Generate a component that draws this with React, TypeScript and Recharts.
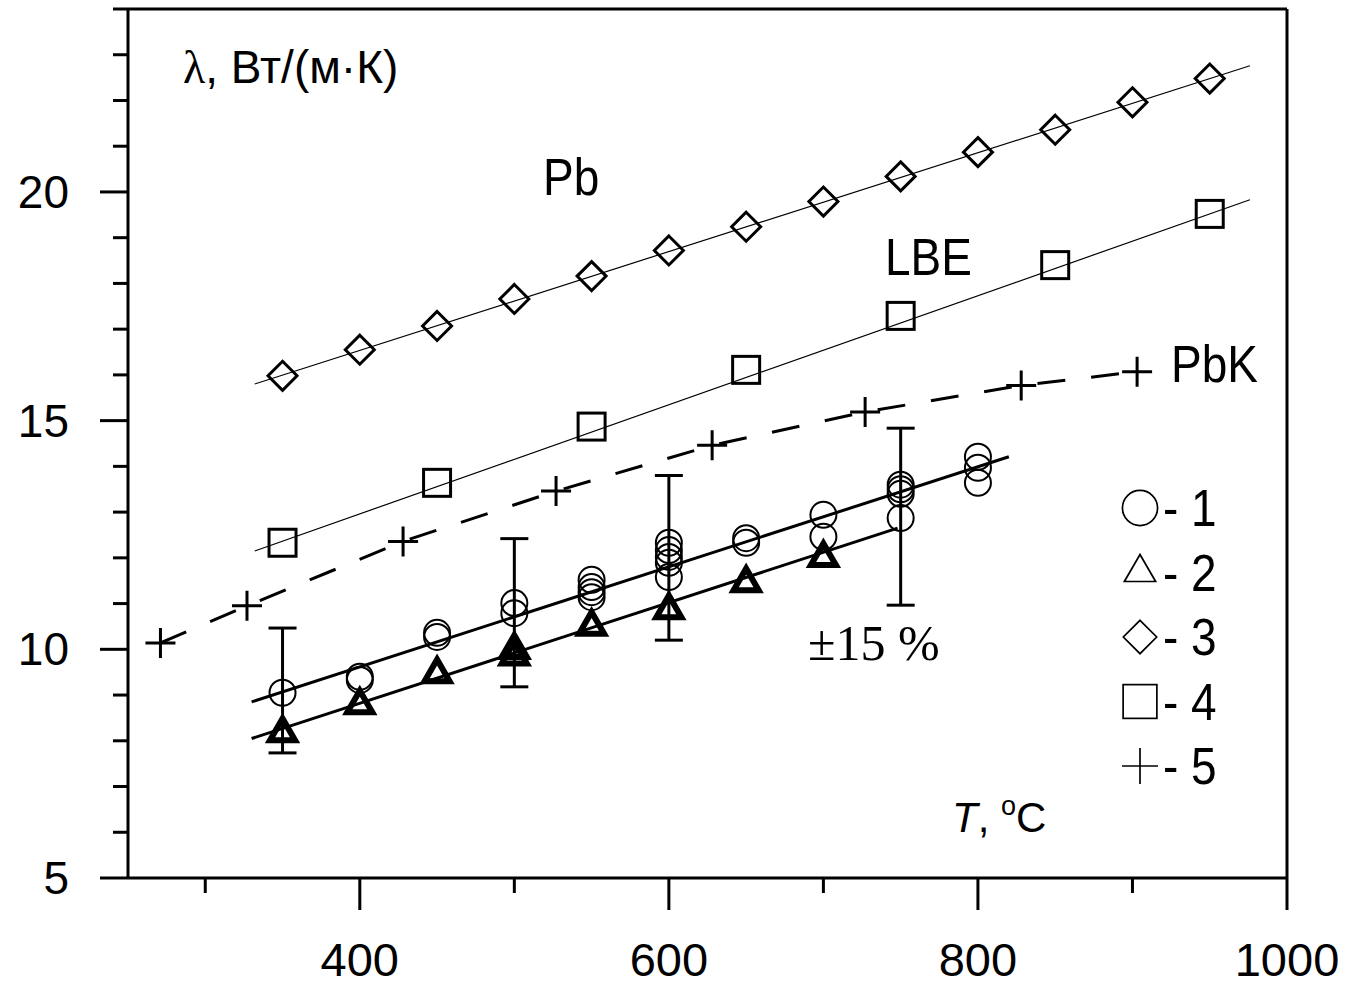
import { ErrorBar, ReferenceLine, Scatter, ScatterChart, XAxis, YAxis } from "recharts";

// axes
const xTicks = [300, 400, 500, 600, 700, 800, 900, 1000];
const xLabelled = [400, 600, 800, 1000];
const yTicks = [5, 6, 7, 8, 9, 10, 11, 12, 13, 14, 15, 16, 17, 18, 19, 20, 21, 22, 23, 24];
const yLabelled = [5, 10, 15, 20];

// 3 - Pb
const pbT = [350, 400, 450, 500, 550, 600, 650, 700, 750, 800, 850, 900, 950];
const pbLambda = [15.98, 16.55, 17.07, 17.66, 18.16, 18.72, 19.24, 19.79, 20.34, 20.87, 21.36, 21.96, 22.48];
const pbFitT = [332, 976];
const pbFitLambda = [15.8, 22.76];

// 4 - LBE
const lbeT = [350, 450, 550, 650, 750, 850, 950];
const lbeLambda = [12.33, 13.64, 14.87, 16.11, 17.29, 18.4, 19.52];
const lbeFitT = [332, 976];
const lbeFitLambda = [12.15, 19.83];

// 5 - PbK
const pbkT = [271, 327, 428, 527, 628, 727, 828, 903];
const pbkLambda = [10.14, 10.95, 12.36, 13.46, 14.46, 15.19, 15.77, 16.07];

// 1 - circles
const set1T = [350, 400, 400, 450, 450, 500, 500, 550, 550, 550, 550, 600, 600, 600, 600, 600, 650, 650, 700, 700, 750, 750, 750, 750, 800, 800, 800];
const set1Lambda = [9.05, 9.4, 9.33, 10.36, 10.27, 11.01, 10.79, 11.52, 11.36, 11.25, 11.14, 12.33, 12.17, 12.02, 11.89, 11.58, 12.43, 12.33, 12.94, 12.46, 13.6, 13.5, 13.4, 12.87, 14.21, 13.97, 13.64];
const fit1T = [330, 820];
const fit1Lambda = [8.85, 14.21];

// 2 - triangles
const set2T = [350, 400, 450, 500, 500, 550, 600, 650, 700];
const set2Lambda = [8.17, 8.78, 9.46, 9.99, 9.85, 10.5, 10.86, 11.45, 12.0];
const fit2T = [330, 748];
const fit2Lambda = [8.05, 12.65];

// ±15 % error bars
const errT = [350, 500, 600, 750];
const errLambda = [9.1, 10.8, 12.0, 12.9];
const errShare = 0.15;

const legendNames = ["- 1", "- 2", "- 3", "- 4", "- 5"];

const SANS = "'Liberation Sans', Arial, sans-serif";
const SERIF = "'Liberation Serif', 'Times New Roman', serif";
const PLOT_LEFT = 128;
const PLOT_BOTTOM = 878;

const pts = (ts: number[], vs: number[]) => ts.map((t, i) => ({ t, v: vs[i] }));

type Mark = (cx: number, cy: number, k?: number, sw?: number) => JSX.Element;

const circleMark: Mark = (cx, cy, k = 1, sw = 2) => (
  <circle cx={cx} cy={cy} r={13 * k} fill="none" stroke="#000" strokeWidth={sw} />
);
const triangleMark: Mark = (cx, cy, k = 1, sw = 6) => {
  const s = 25 * k;
  const h = (s * Math.sqrt(3)) / 2;
  return (
    <path
      d={`M${cx},${cy - (2 * h) / 3} L${cx + s / 2},${cy + h / 3} L${cx - s / 2},${cy + h / 3} Z`}
      fill="none"
      stroke="#000"
      strokeWidth={sw}
    />
  );
};
const diamondMark: Mark = (cx, cy, k = 1, sw = 3) => {
  const r = 14.5 * k;
  return (
    <path
      d={`M${cx},${cy - r} L${cx + r},${cy} L${cx},${cy + r} L${cx - r},${cy} Z`}
      fill="none"
      stroke="#000"
      strokeWidth={sw}
    />
  );
};
const squareMark: Mark = (cx, cy, k = 1, sw = 3) => {
  const a = 13.5 * k;
  return <rect x={cx - a} y={cy - a} width={2 * a} height={2 * a} fill="none" stroke="#000" strokeWidth={sw} />;
};
const plusMark: Mark = (cx, cy, k = 1, sw = 3) => {
  const a = 15 * k;
  return (
    <path d={`M${cx - a},${cy} H${cx + a} M${cx},${cy - a} V${cy + a}`} stroke="#000" strokeWidth={sw} fill="none" />
  );
};
const noMark = () => <g />;

const shapeOf = (m: Mark) => (p: any) => m(p.cx, p.cy);

function XTick(props: any) {
  const { x, payload } = props;
  const major = xLabelled.includes(payload.value);
  return (
    <g>
      <line x1={x} x2={x} y1={PLOT_BOTTOM} y2={PLOT_BOTTOM + (major ? 32 : 15)} stroke="#000" strokeWidth={3} />
      {major && (
        <text x={x} y={976} textAnchor="middle" fontFamily={SANS} fontSize={47} fill="#000">
          {payload.value}
        </text>
      )}
    </g>
  );
}

function YTick(props: any) {
  const { y, payload } = props;
  const major = yLabelled.includes(payload.value);
  return (
    <g>
      <line x1={PLOT_LEFT - (major ? 28 : 15)} x2={PLOT_LEFT} y1={y} y2={y} stroke="#000" strokeWidth={3} />
      {major && (
        <text x={69} y={y + 16} textAnchor="end" fontFamily={SANS} fontSize={46} fill="#000">
          {payload.value}
        </text>
      )}
    </g>
  );
}

function Tall({ x, y, children, size = 46, family = SANS }: any) {
  return (
    <text transform={`translate(${x},${y}) scale(1,1.12)`} fontFamily={family} fontSize={size} fill="#000">
      {children}
    </text>
  );
}

const legendMarks: Mark[] = [circleMark, triangleMark, diamondMark, squareMark, plusMark];
const legendScale = [1.35, 1.25, 1.15, 1.25, 1.2];

export default function App() {
  const errData = errT.map((t, i) => ({ t, v: errLambda[i], err: errLambda[i] * errShare }));

  return (
    <div style={{ position: "absolute", left: 0, top: 0, width: 1345, height: 987, background: "#fff" }}>
      <ScatterChart width={1345} height={987} margin={{ top: 9, right: 58, bottom: 9, left: 28 }}>
        <XAxis
          type="number"
          dataKey="t"
          domain={[250, 1000]}
          ticks={xTicks}
          interval={0}
          allowDataOverflow
          height={100}
          axisLine={{ stroke: "#000", strokeWidth: 3 }}
          tickLine={false}
          tick={<XTick />}
        />
        <YAxis
          type="number"
          dataKey="v"
          domain={[5, 24]}
          ticks={yTicks}
          interval={0}
          allowDataOverflow
          width={100}
          axisLine={{ stroke: "#000", strokeWidth: 3 }}
          tickLine={false}
          tick={<YTick />}
        />
        <ReferenceLine y={24} stroke="#000" strokeWidth={3} />
        <ReferenceLine x={1000} stroke="#000" strokeWidth={3} />

        <Scatter data={pts(pbFitT, pbFitLambda)} line={{ stroke: "#000", strokeWidth: 1.2 }} shape={noMark} isAnimationActive={false} />
        <Scatter data={pts(lbeFitT, lbeFitLambda)} line={{ stroke: "#000", strokeWidth: 1.2 }} shape={noMark} isAnimationActive={false} />
        <Scatter data={pts(fit1T, fit1Lambda)} line={{ stroke: "#000", strokeWidth: 3 }} shape={noMark} isAnimationActive={false} />
        <Scatter data={pts(fit2T, fit2Lambda)} line={{ stroke: "#000", strokeWidth: 3 }} shape={noMark} isAnimationActive={false} />
        <Scatter
          data={pts(pbkT, pbkLambda)}
          line={{ stroke: "#000", strokeWidth: 3, strokeDasharray: "28 26" }}
          shape={shapeOf(plusMark)}
          isAnimationActive={false}
        />

        <Scatter data={errData} shape={noMark} isAnimationActive={false}>
          <ErrorBar dataKey="err" direction="y" width={14} stroke="#000" strokeWidth={3} />
        </Scatter>

        <Scatter data={pts(pbT, pbLambda)} shape={shapeOf(diamondMark)} isAnimationActive={false} />
        <Scatter data={pts(lbeT, lbeLambda)} shape={shapeOf(squareMark)} isAnimationActive={false} />
        <Scatter data={pts(set1T, set1Lambda)} shape={shapeOf(circleMark)} isAnimationActive={false} />
        <Scatter data={pts(set2T, set2Lambda)} shape={shapeOf(triangleMark)} isAnimationActive={false} />
      </ScatterChart>

      <svg width={1345} height={987} style={{ position: "absolute", left: 0, top: 0, pointerEvents: "none" }}>
        <text x={183} y={83} fontFamily={SANS} fontSize={46} fill="#000">
          <tspan fontFamily={SERIF}>λ</tspan>, Вт/(м·К)
        </text>
        <Tall x={543} y={195}>Pb</Tall>
        <Tall x={885} y={275}>LBE</Tall>
        <Tall x={1171} y={382}>PbK</Tall>
        <text x={808} y={660} fontFamily={SERIF} fontSize={50} fill="#000">
          ±15 %
        </text>
        <text x={952} y={832} fontFamily={SANS} fontSize={42} fill="#000">
          <tspan fontStyle="italic">T</tspan>,{" "}
          <tspan fontSize={27} dy={-17}>
            o
          </tspan>
          <tspan dy={17}>C</tspan>
        </text>

        {legendNames.map((name, i) => {
          const cy = 508 + i * 64.5;
          return (
            <g key={name}>
              {legendMarks[i](1140, cy, legendScale[i], 1.7)}
              <Tall x={1163} y={cy + 18}>
                {name}
              </Tall>
            </g>
          );
        })}
      </svg>
    </div>
  );
}
